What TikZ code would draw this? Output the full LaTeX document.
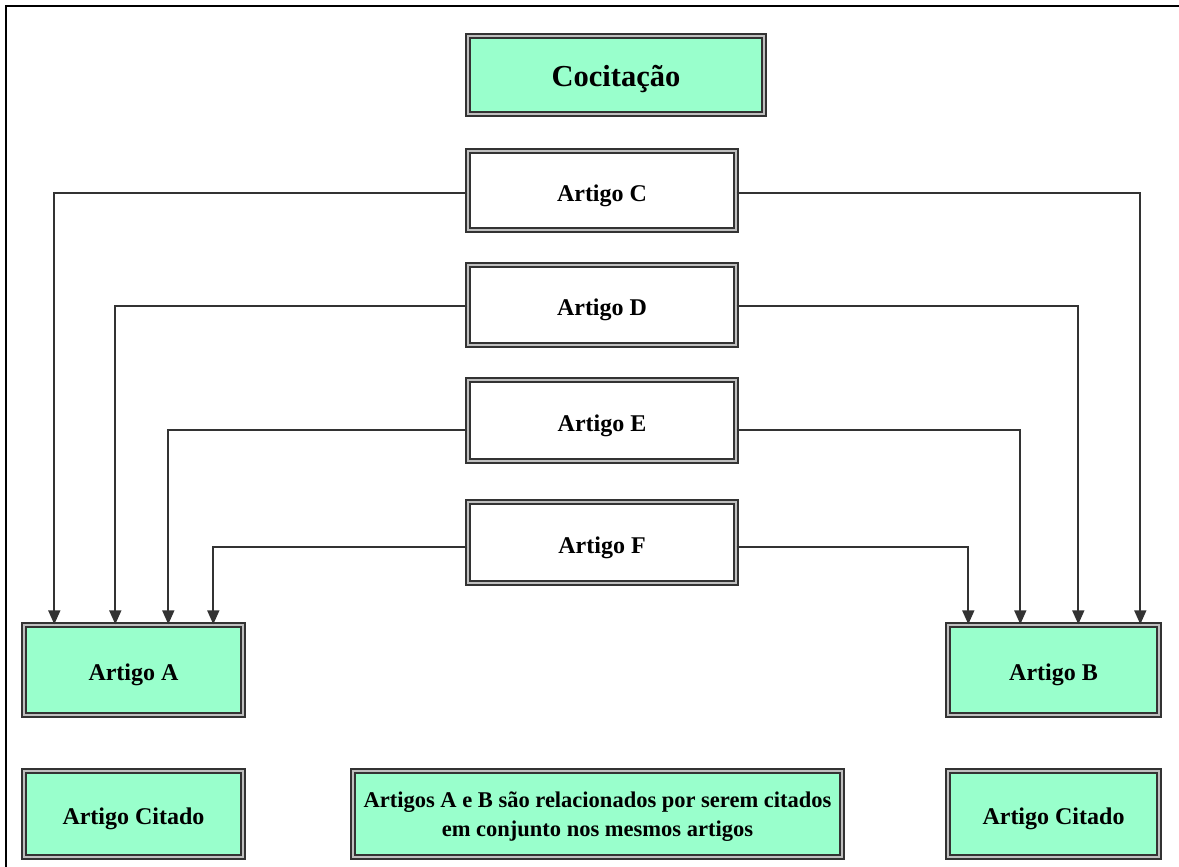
\documentclass[tikz,border=0pt]{standalone}
\usepackage{fontspec}
\setmainfont{Liberation Serif}
\usetikzlibrary{arrows.meta,calc}
\definecolor{mint}{HTML}{99FFCC}
\definecolor{wire}{HTML}{333333}
\begin{document}
\begin{tikzpicture}[x=1pt,y=-1pt,
  box/.style={draw=black!80, line width=1.4pt, double=black!25, double distance=2.6pt,
    inner sep=0pt, align=center, font=\bfseries\fontsize{24}{28}\selectfont,
    text height=21pt, text depth=0pt,
    append after command={
      \pgfextra{\draw[black!85, line width=1.8pt]
        ([shift={(5.2pt,-5.2pt)}]\tikzlastnode.north west) rectangle
        ([shift={(-5.2pt,5.2pt)}]\tikzlastnode.south east);}}},
  green/.style={box, fill=mint},
  plain/.style={box, fill=white},
  link/.style={draw=wire, line width=1.8pt, -{Triangle[length=14pt,width=12pt]}}]
\useasboundingbox (0,0) rectangle (1179,867);
% open frame: top and left edges only
\draw[black, line width=1.6pt] (6,867) -- (6,6) -- (1179,6);

\node[green, minimum width=296, minimum height=78, text height=24pt,
  font=\bfseries\fontsize{30.5}{34}\selectfont] (title) at (616,75) {Cocitação};

\node[plain, minimum width=268, minimum height=79] (C) at (602,190.5) {Artigo C};
\node[plain, minimum width=268, minimum height=80] (D) at (602,305) {Artigo D};
\node[plain, minimum width=268, minimum height=81] (E) at (602,420.5) {Artigo E};
\node[plain, minimum width=268, minimum height=81] (F) at (602,542.5) {Artigo F};

\node[green, minimum width=219, minimum height=90] (A) at (133.5,670) {Artigo A};
\node[green, minimum width=211, minimum height=90] (B) at (1053.5,670) {Artigo B};

\node[green, minimum width=219, minimum height=86] (citL) at (133.5,814) {Artigo Citado};
\node[green, minimum width=489, minimum height=86, text height=, text depth=0pt,
  font=\bfseries\fontsize{22.5}{29}\selectfont] (note) at (597.5,814)
  {Artigos A e B são relacionados por serem citados\\em conjunto nos mesmos artigos};
\node[green, minimum width=211, minimum height=86] (citR) at (1053.5,814) {Artigo Citado};

% citing articles point to both cited articles
\draw[link] ([yshift=-2.5pt]C.west) -| ($(A.north west)+(31,0)$);
\draw[link] ([yshift=-1pt]D.west) -| ($(A.north west)+(92,0)$);
\draw[link] ([yshift=-9.5pt]E.west) -| ($(A.north west)+(145,0)$);
\draw[link] ([yshift=-4.5pt]F.west) -| ($(A.north west)+(190,0)$);
\draw[link] ([yshift=-2.5pt]C.east) -| ($(B.north west)+(193,0)$);
\draw[link] ([yshift=-1pt]D.east) -| ($(B.north west)+(131,0)$);
\draw[link] ([yshift=-9.5pt]E.east) -| ($(B.north west)+(73,0)$);
\draw[link] ([yshift=-4.5pt]F.east) -| ($(B.north west)+(21,0)$);
\end{tikzpicture}
\end{document}
